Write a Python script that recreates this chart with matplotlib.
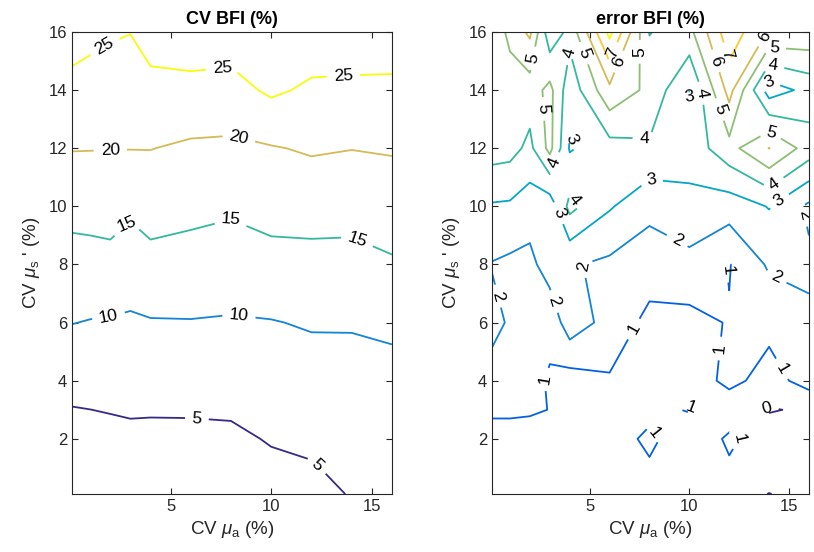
import matplotlib
matplotlib.use("Agg")
import matplotlib.pyplot as plt
import numpy as np
from matplotlib.colors import LinearSegmentedColormap, Normalize

plt.rcParams['font.family'] = ['Liberation Sans', 'DejaVu Sans']
plt.rcParams['mathtext.fontset'] = 'custom'
plt.rcParams['mathtext.rm'] = 'Liberation Sans'
plt.rcParams['mathtext.it'] = 'Liberation Sans:italic'

# grid of CV mu_a (columns) and CV mu_s' (rows), in %
cv_mua = [0.1, 1, 2, 3, 4, 6, 8, 10, 12, 14, 16]
cv_mus = [0.1, 1, 2, 3, 4, 6, 8, 10, 12, 14, 16]

# CV BFI (%), one list per CV mu_a column, values bottom -> top
cv_bfi_cols = [
    [0.5, 1.3, 3.1, 4.8, 6.6, 10.1, 13.2, 16.5, 20.2, 23.6, 27.0],
    [0.5, 1.8, 3.4, 4.98, 6.6, 9.8, 13.3, 16.7, 20.15, 23.2, 26.2],
    [0.5, 2.3, 3.8, 5.2, 6.7, 9.6, 13.5, 17.0, 20.1, 22.8, 25.5],
    [0.5, 2.8, 4.1, 5.4, 6.7, 9.4, 12.4, 15.9, 20.1, 22.5, 25.1],
    [0.5, 2.5, 3.9, 5.4, 6.8, 9.7, 13.5, 17.0, 20.1, 23.6, 27.0],
    [0.5, 2.5, 4.0, 5.4, 6.9, 9.8, 13.1, 16.3, 19.3, 23.5, 28.1],
    [0.5, 2.8, 4.2, 5.5, 6.9, 9.6, 12.6, 15.7, 19.1, 23.3, 27.6],
    [3.2, 4.2, 5.3, 6.5, 7.6, 9.8, 13.4, 16.7, 19.7, 25.8, 29.5],
    [3.7, 4.7, 5.8, 6.9, 8.0, 10.4, 13.5, 16.9, 20.5, 24.2, 27.9],
    [5.25, 6.1, 6.9, 7.8, 8.6, 10.3, 13.5, 16.7, 20.1, 24.0, 27.9],
    [6.0, 6.7, 7.5, 8.2, 9.0, 10.6, 14.5, 17.4, 20.4, 24.0, 27.6],
]

# error BFI (%), one list per CV mu_a column, values bottom -> top
err_bfi_cols = [
    [0.3, 0.4, 0.3, 1.3, 1.6, 2.3, 1.95, 2.9, 4.44, 4.5, 4.2],
    [0.3, 0.4, 0.3, 1.3, 1.5, 1.88, 1.8, 2.85, 4.35, 4.4, 5.3],
    [0.4, 0.5, 0.3, 1.2, 1.3, 1.5, 1.72, 2.48, 3.75, 4.49, 6.2],
    [0.4, 0.5, 0.5, 0.97, 0.9, 1.25, 2.51, 2.39, 5.3, 5.3, 3.3],
    [0.5, 0.6, 0.5, 0.6, 0.55, 2.6, 2.1, 4.3, 2.9, 3.36, 4.3],
    [0.5, 0.6, 0.3, 0.4, 0.9, 1.62, 1.8, 3.1, 3.6, 5.75, 8.3],
    [0.6, 0.82, 1.3, 0.6, 0.5, 0.73, 1.47, 2.27, 3.85, 4.75, 3.95],
    [0.5, 0.6, 0.1, 1.1, 0.35, 0.7, 1.68, 2.75, 3.38, 2.95, 4.7],
    [0.4, 0.85, 1.2, 0.3, 1.3, 1.06, 0.95, 2.47, 4.66, 6.36, 7.64],
    [-0.02, 0.5, 0.4, -0.05, 0.58, 1.3, 2.14, 3.05, 6.02, 2.5, 5.9],
    [0.3, 0.4, 0.5, 0.1, 1.42, 1.8, 2.2, 1.8, 4.56, 3.3, 5.77],
]

cv_levels = [5, 10, 15, 20, 25]
err_levels = [0, 1, 2, 3, 4, 5, 6, 7, 8]

# label spots (data coords)
cv_label_pos = [(2.0, 15.2), (7.6, 14.66), (13.6, 14.4), (2.0, 11.97), (8.4, 12.38),
                (2.75, 9.44), (8.0, 9.6), (14.25, 8.8), (1.9, 6.32), (8.4, 6.27),
                (6.3, 2.63), (12.2, 1.02)]
err_label_pos = [(2.17, 15.09), (4.0, 15.26), (4.67, 15.26), (6.0, 15.32), (6.5, 14.97),
                 (7.67, 15.32), (2.83, 13.36), (4.08, 12.3), (7.75, 12.44), (3.33, 11.46),
                 (8.08, 10.88), (4.2, 10.2), (3.5, 9.78), (9.42, 8.86), (3.8, 7.82),
                 (3.23, 6.73), (0.33, 6.9), (2.67, 4.07), (7.0, 5.86), (11.5, 5.11),
                 (14.67, 4.42), (10.08, 3.1), (8.17, 2.17), (12.5, 2.0), (13.92, 3.03),
                 (11.58, 7.76), (14.25, 7.42), (15.58, 9.67), (14.5, 10.19), (14.17, 10.82),
                 (13.92, 15.79), (14.25, 15.39), (14.17, 14.81), (14.0, 14.29), (12.0, 15.27),
                 (11.25, 14.99), (10.5, 13.89), (10.0, 13.77), (11.42, 13.31), (14.0, 12.45)]

# parula-like colours
parula = LinearSegmentedColormap.from_list('parula', [
    (0.2081, 0.1663, 0.5292), (0.017, 0.384, 0.880), (0.079, 0.516, 0.833),
    (0.023, 0.649, 0.783), (0.199, 0.721, 0.631), (0.546, 0.749, 0.459),
    (0.827, 0.732, 0.346), (0.995, 0.788, 0.195), (0.9763, 0.9831, 0.0538)])

dark = '#262626'
fig = plt.figure(figsize=(8.14, 5.52), dpi=100)
ax1 = fig.add_axes([0.0885, 0.105, 0.393, 0.837])
ax2 = fig.add_axes([0.6044, 0.105, 0.3894, 0.837])

X, Y = np.meshgrid(cv_mua, cv_mus)
panels = [
    (ax1, np.array(cv_bfi_cols).T, cv_levels, cv_label_pos, 'CV BFI (%)'),
    (ax2, np.array(err_bfi_cols).T, err_levels, err_label_pos, 'error BFI (%)'),
]

for ax, Z, levels, lpos, title in panels:
    norm = Normalize(vmin=levels[0], vmax=levels[-1])
    cs = ax.contour(X, Y, Z, levels=levels, cmap=parula, norm=norm, linewidths=1.3)
    ax.clabel(cs, manual=lpos, inline=True, inline_spacing=7, fontsize=12.5,
              colors='k', fmt='%d')
    ax.set_xlim(0.1, 16)
    ax.set_ylim(0.1, 16)
    ax.set_xticks([5, 10, 15])
    ax.set_yticks([2, 4, 6, 8, 10, 12, 14, 16])
    ax.tick_params(direction='in', top=True, right=True, length=4.5, width=0.8,
                   labelsize=12, colors=dark, labelcolor=dark)
    for sp in ax.spines.values():
        sp.set_color(dark)
        sp.set_linewidth(0.8)
    ax.set_title(title, fontsize=13, fontweight='bold', pad=6)
    ax.set_xlabel(r"CV $\mu_{\rm a}$ (%)", fontsize=13.5, color=dark, labelpad=4)
    ax.set_ylabel(r"CV $\mu_{\rm s}$ ' (%)", fontsize=13.5, color=dark, labelpad=5)

fig.savefig('out.png', dpi=100)
